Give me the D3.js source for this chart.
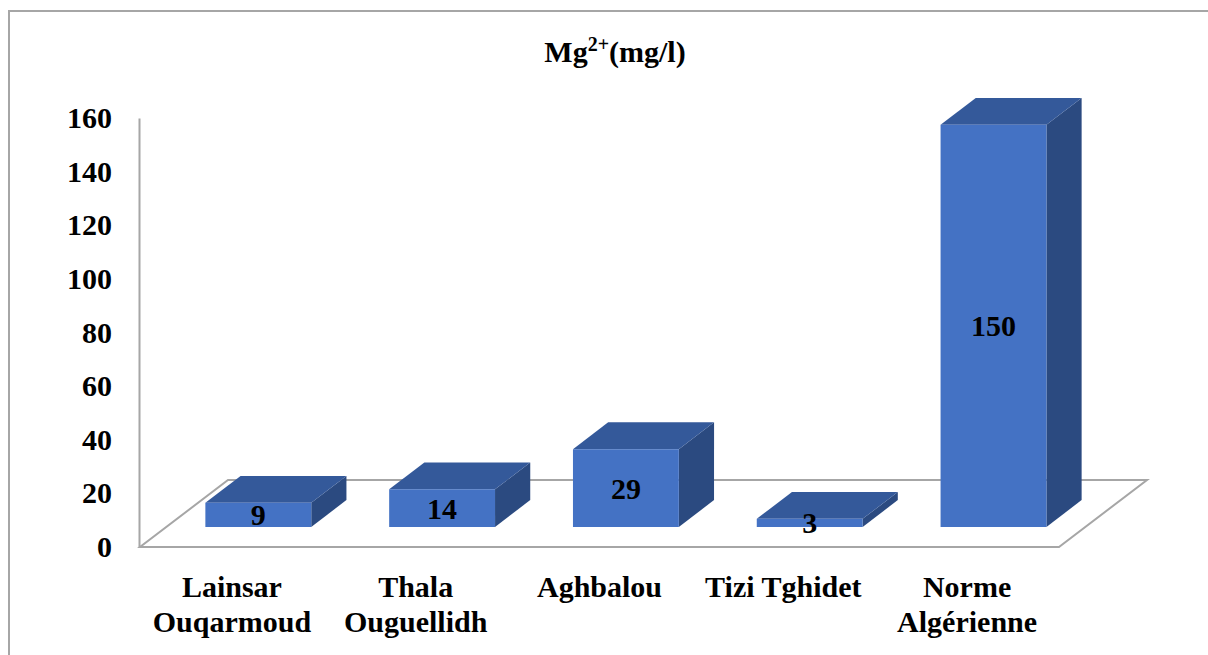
<!DOCTYPE html>
<html>
<head>
<meta charset="utf-8">
<script src="https://cdn.jsdelivr.net/npm/d3@7"></script>
<style>
  html, body { margin: 0; padding: 0; background: #fff; }
  svg { display: block; }
  text { font-family: "Liberation Serif", "Times New Roman", serif; font-weight: bold; fill: #000; }
</style>
</head>
<body>
<svg id="chart" width="1208" height="655"></svg>
<script>
// Magnesium content per site (mg/l) against the Algerian standard
const categories = [
  ["Lainsar", "Ouqarmoud"],
  ["Thala", "Ouguellidh"],
  ["Aghbalou"],
  ["Tizi Tghidet"],
  ["Norme", "Algérienne"]
];
const values = [9, 14, 29, 3, 150];
const tickValues = [0, 20, 40, 60, 80, 100, 120, 140, 160];
const titleMain = "Mg";
const titleSup = "2+";
const titleUnit = "(mg/l)";

const svg = d3.select("#chart");

// Oblique projection: depth z in [0,1] shifts right and up
const depthX = 88, depthY = -67;
const floorLeft = 140, floorRight = 1059, floorY = 547;
const barZ0 = 0.3, barZ1 = 0.7;

const x = d3.scaleBand()
  .domain(d3.range(values.length))
  .range([floorLeft, floorRight])
  .paddingInner(0.424)
  .paddingOuter(0.212);

const y = d3.scaleLinear().domain([0, 160]).range([floorY, floorY - 429]);

const proj = (px, py, z) => [px + depthX * z, py + depthY * z];

// Outer frame
svg.append("rect")
  .attr("x", 9).attr("y", 11)
  .attr("width", 1220).attr("height", 660)
  .attr("fill", "none").attr("stroke", "#a6a6a6").attr("stroke-width", 2);

// Title with superscript charge
const title = svg.append("text")
  .attr("x", 615).attr("y", 62)
  .attr("text-anchor", "middle")
  .style("font-size", "30px");
title.append("tspan").text(titleMain);
title.append("tspan").attr("dy", -11).style("font-size", "20px").text(titleSup);
title.append("tspan").attr("dy", 11).text(titleUnit);

// Floor
const floorPts = [
  proj(floorLeft, floorY, 0), proj(floorRight, floorY, 0),
  proj(floorRight, floorY, 1), proj(floorLeft, floorY, 1)
];
svg.append("polygon")
  .attr("points", floorPts.map(p => p.join(",")).join(" "))
  .attr("fill", "#fff").attr("stroke", "#a6a6a6").attr("stroke-width", 2)
  .attr("stroke-linejoin", "miter");

// Value axis
const yAxis = d3.axisLeft(y).tickValues(tickValues).tickSize(0).tickSizeOuter(0).tickPadding(27);
const gAxis = svg.append("g")
  .attr("transform", `translate(${floorLeft - 1},0)`)
  .call(yAxis);
gAxis.select(".domain").attr("stroke", "#a6a6a6").attr("stroke-width", 2);
gAxis.selectAll(".tick text")
  .style("font-size", "30px")
  .style("font-family", "'Liberation Serif', 'Times New Roman', serif")
  .style("font-weight", "bold")
  .attr("fill", "#000");

// 3D columns
const colors = { front: "#4472c4", top: "#34599a", side: "#2b4a80" };
const bars = svg.append("g").selectAll("g.bar")
  .data(values)
  .join("g").attr("class", "bar");

const pts = arr => arr.map(p => p.join(",")).join(" ");

bars.each(function (v, i) {
  const g = d3.select(this);
  const x0 = x(i), x1 = x(i) + x.bandwidth();
  const yb = y(0), yt = y(v);
  const fl = proj(x0, yt, barZ0), fr = proj(x1, yt, barZ0);
  const bl = proj(x0, yt, barZ1), br = proj(x1, yt, barZ1);
  const frb = proj(x1, yb, barZ0), brb = proj(x1, yb, barZ1);
  const flb = proj(x0, yb, barZ0);
  // side face
  g.append("polygon").attr("points", pts([fr, br, brb, frb])).attr("fill", colors.side);
  // top face
  g.append("polygon").attr("points", pts([fl, fr, br, bl])).attr("fill", colors.top);
  // front face
  g.append("polygon").attr("points", pts([fl, fr, frb, flb])).attr("fill", colors.front);
});

// Value labels centred on the front faces
bars.append("text")
  .attr("x", (v, i) => proj(x(i) + x.bandwidth() / 2, 0, barZ0)[0])
  .attr("y", v => (proj(0, y(v), barZ0)[1] + proj(0, y(0), barZ0)[1]) / 2)
  .attr("text-anchor", "middle")
  .attr("dy", "0.35em")
  .style("font-size", "30px")
  .text(v => v);

// Category labels
const catG = svg.append("g");
categories.forEach((lines, i) => {
  const t = catG.append("text")
    .attr("x", x(i) + x.bandwidth() / 2)
    .attr("y", 597)
    .attr("text-anchor", "middle")
    .style("font-size", "30px");
  lines.forEach((line, j) => {
    t.append("tspan")
      .attr("x", x(i) + x.bandwidth() / 2)
      .attr("dy", j === 0 ? 0 : 35)
      .text(line);
  });
});
</script>
</body>
</html>
